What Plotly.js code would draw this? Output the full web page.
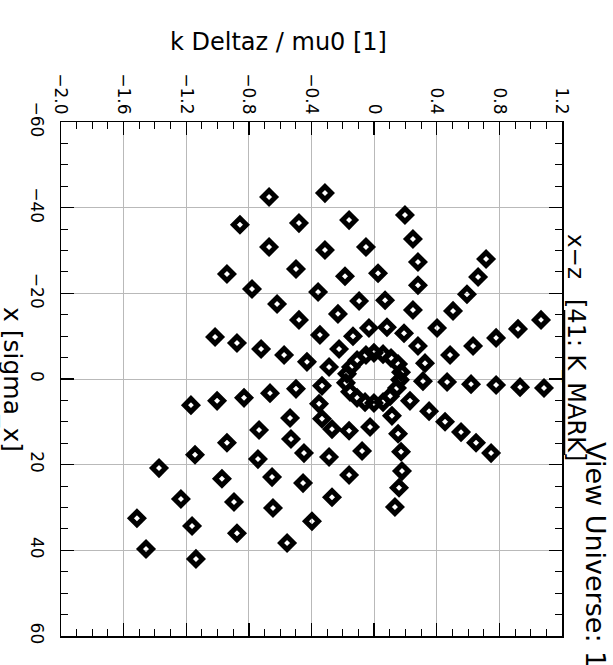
<!DOCTYPE html>
<html>
<head>
<meta charset="utf-8">
<script src="https://cdn.plot.ly/plotly-3.0.1.min.js"></script>
<style>
html,body{margin:0;padding:0;overflow:hidden;background:#fff;width:613px;height:665px;}
#plot{width:613px;height:665px;}
</style>
</head>
<body>
<div id="plot"></div>
<script>
// ---- data: x [sigma_x] and k Deltaz / mu0 [1] ----
const ringX = [-6.1,-5.8,-4.9,-3.5,-1.6,0.2,2.1,4.0,5.4,5.6,5.4,4.4,3.0,0.9,-1.2,-2.8,-4.4,-5.6];
const ringY = [-0.001,0.057,0.108,0.153,0.172,0.165,0.146,0.102,0.057,-0.001,-0.058,-0.109,-0.154,-0.180,-0.173,-0.148,-0.109,-0.052];

const rayX = [
  [1.6,2.3,3.3,4.4,5.1,6.1],
  [5.8,9.1,11.9,14.9,17.7,20.8],
  [9.3,14.0,18.7,23.3,28.0,32.5],
  [11.7,17.3,22.9,28.7,34.3,39.7],
  [12.1,18.2,24.3,30.1,36.0,42.0],
  [11.2,16.8,22.4,27.6,33.2,38.3],
  [8.6,12.8,17.0,21.5,25.4,29.9],
  [5.1,7.5,10.0,12.4,14.9,17.3],
  [0.5,0.7,1.2,1.4,1.9,2.1],
  [-3.7,-5.6,-7.7,-9.6,-11.7,-13.8],
  [-7.7,-11.9,-15.9,-19.8,-23.8,-28.0],
  [-10.7,-16.1,-21.9,-27.3,-32.7,-38.3],
  [-12.1,-18.4,-24.7,-30.8,-37.1,-43.4],
  [-11.9,-18.2,-24.0,-30.1,-36.4,-42.5],
  [-10.0,-15.2,-20.3,-25.7,-30.8,-36.0],
  [-7.0,-10.3,-13.8,-17.5,-21.0,-24.5],
  [-2.8,-4.0,-5.6,-7.0,-8.4,-9.8]
];
const rayY = [
  [-0.333,-0.499,-0.665,-0.831,-1.003,-1.170],
  [-0.352,-0.537,-0.735,-0.940,-1.144,-1.374],
  [-0.333,-0.531,-0.742,-0.972,-1.234,-1.515],
  [-0.269,-0.448,-0.652,-0.895,-1.163,-1.457],
  [-0.160,-0.288,-0.454,-0.646,-0.876,-1.138],
  [-0.026,-0.077,-0.160,-0.269,-0.397,-0.556],
  [0.114,0.153,0.172,0.178,0.159,0.133],
  [0.229,0.351,0.453,0.555,0.651,0.747],
  [0.312,0.466,0.619,0.779,0.932,1.085],
  [0.325,0.485,0.632,0.779,0.919,1.066],
  [0.280,0.402,0.504,0.593,0.664,0.715],
  [0.191,0.248,0.280,0.280,0.248,0.197],
  [0.082,0.070,0.025,-0.052,-0.160,-0.314],
  [-0.033,-0.096,-0.186,-0.314,-0.480,-0.671],
  [-0.135,-0.231,-0.358,-0.499,-0.671,-0.857],
  [-0.224,-0.346,-0.480,-0.620,-0.780,-0.940],
  [-0.288,-0.429,-0.575,-0.722,-0.876,-1.016]
];

const xTickVals = [-60,-40,-20,0,20,40,60];
const xTickText = ['\u221260','\u221240','\u221220','0','20','40','60'];
const yTickVals = [-2.0,-1.6,-1.2,-0.8,-0.4,0,0.4,0.8,1.2];
const yTickText = ['\u22122.0','\u22121.6','\u22121.2','\u22120.8','\u22120.4','0','0.4','0.8','1.2'];
const xMinorStep = 5;
const yMinorStep = 0.1;

const xTitle = 'x [sigma_x]';
const yTitle = 'k Deltaz / mu0 [1]';
const viewLabel = 'x\u2212z';
const markLabel = '[41: K_MARK]';
const universeLabel = 'View Universe: 1';

// ---- build (chart is shown turned a quarter turn: sigma_x runs down, k Deltaz runs right) ----
const sigmaVals = ringX.concat(...rayX);
const deltaVals = ringY.concat(...rayY);

const FONT = 'DejaVu Sans, sans-serif';
const W = 613, H = 665;
const M = {l:61, r:51, t:122, b:29};
const PW = W - M.l - M.r, PH = H - M.t - M.b;
const px = v => (v - M.l) / PW;
const py = v => (H - M.b - v) / PH;

const minus = s => s.replace('-', '\u2212');
const sigmaAlias = {}; xTickVals.forEach((v,i) => { sigmaAlias[minus(String(v))] = xTickText[i]; });
const deltaAlias = {}; yTickVals.forEach((v,i) => { deltaAlias[minus(v.toFixed(1))] = yTickText[i]; });

const trace = {
  type:'scatter', mode:'markers', x: deltaVals, y: sigmaVals,
  marker:{symbol:'diamond-open', size:10, color:'black', line:{width:5, color:'black'}}
};

const axisCommon = {
  ticks:'inside', ticklen:13, tickwidth:1.3, tickcolor:'black',
  showgrid:true, gridcolor:'#b9b9b9', gridwidth:1,
  showline:true, linecolor:'black', linewidth:1.5, mirror:'allticks',
  zeroline:false, tickfont:{family:FONT, size:17, color:'black'},
  tickmode:'linear', tickangle:90
};

const layout = {
  width:W, height:H, margin:M, autosize:false, showlegend:false,
  xaxis: Object.assign({}, axisCommon, {
    side:'top',
    range:[yTickVals[0], yTickVals[yTickVals.length-1]],
    tick0:yTickVals[0], dtick:0.4, tickformat:'.1f', labelalias:deltaAlias,
    minor:{dtick:yMinorStep, ticks:'inside', ticklen:7, tickwidth:1, tickcolor:'black', showgrid:false}
  }),
  yaxis: Object.assign({}, axisCommon, {
    range:[xTickVals[xTickVals.length-1], xTickVals[0]],
    tick0:xTickVals[0], dtick:xTickVals[1]-xTickVals[0], labelalias:sigmaAlias,
    minor:{dtick:xMinorStep, ticks:'inside', ticklen:7, tickwidth:1, tickcolor:'black', showgrid:false},
    ticklabelstandoff:8
  }),
  annotations:[
    {text:yTitle, xref:'paper', yref:'paper', x:px(278), y:py(42), showarrow:false,
     xanchor:'center', yanchor:'middle', font:{family:FONT, size:24, color:'black'}},
    {text:xTitle, xref:'paper', yref:'paper', x:px(13), y:py(379), textangle:90, showarrow:false,
     xanchor:'center', yanchor:'middle', font:{family:FONT, size:25, color:'black'}},
    {text:viewLabel, xref:'paper', yref:'paper', x:px(576), y:py(256), textangle:90, showarrow:false,
     xanchor:'center', yanchor:'middle', font:{family:FONT, size:23, color:'black'}},
    {text:markLabel, xref:'paper', yref:'paper', x:px(576), y:py(380), textangle:90, showarrow:false,
     xanchor:'center', yanchor:'middle', font:{family:FONT, size:24, color:'black'}},
    {text:universeLabel, xref:'paper', yref:'paper', x:px(596), y:py(555), textangle:90, showarrow:false,
     xanchor:'center', yanchor:'middle', font:{family:FONT, size:27, color:'black'}}
  ],
  shapes:[
    {type:'line', xref:'paper', yref:'paper', x0:px(564), x1:px(564), y0:py(310), y1:py(455),
     line:{color:'black', width:2.5}}
  ]
};

Plotly.newPlot('plot', [trace], layout, {displayModeBar:false, staticPlot:true});
</script>
</body>
</html>
